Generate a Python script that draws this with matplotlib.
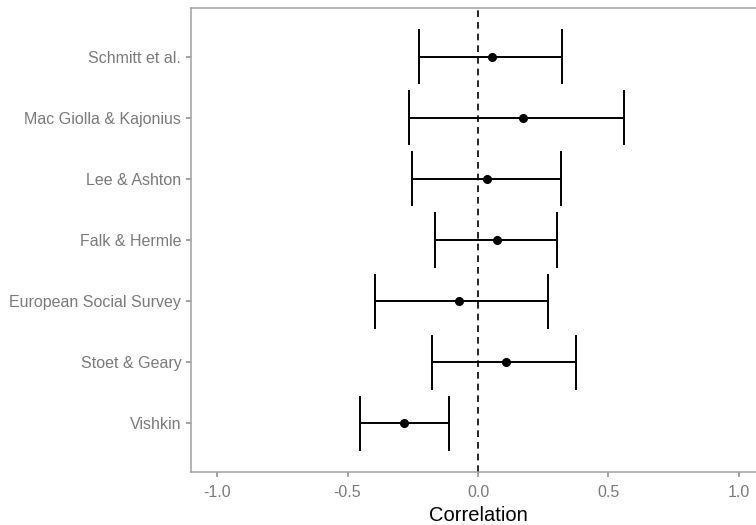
import matplotlib.pyplot as plt

studies = ["Vishkin", "Stoet & Geary", "European Social Survey", "Falk & Hermle",
           "Lee & Ashton", "Mac Giolla & Kajonius", "Schmitt et al."]
estimate = [-0.284, 0.107, -0.073, 0.073, 0.034, 0.172, 0.054]
lower = [-0.452, -0.176, -0.395, -0.165, -0.253, -0.264, -0.226]
upper = [-0.111, 0.375, 0.268, 0.303, 0.318, 0.559, 0.322]

plt.rcParams["font.family"] = ["Liberation Sans", "DejaVu Sans"]

fig = plt.figure(figsize=(7.56, 5.25), dpi=100)
ax = fig.add_axes([191 / 756, 53 / 525, 574 / 756, 464 / 525])

pos = list(range(1, len(studies) + 1))
xerr = [[e - l for e, l in zip(estimate, lower)], [u - e for u, e in zip(upper, estimate)]]

ax.axvline(0, color="black", linestyle=(0, (4, 3)), linewidth=1.2, zorder=1)
ax.errorbar(estimate, pos, xerr=xerr, fmt="o", color="black", ecolor="black",
            elinewidth=1.4, capsize=0, markersize=5.5, zorder=3)
# caps spanning 0.9 of the category width
for l, u, p in zip(lower, upper, pos):
    ax.vlines([l, u], p - 0.45, p + 0.45, color="black", linewidth=1.4, zorder=2)

ax.set_xlim(-1.1, 1.1)
ax.set_ylim(0.205, 7.795)
ax.set_xticks([-1.0, -0.5, 0.0, 0.5, 1.0])
ax.set_xticklabels(["-1.0", "-0.5", "0.0", "0.5", "1.0"])
ax.set_yticks(pos)
ax.set_yticklabels(studies)
ax.set_xlabel("Correlation", fontsize=14.5, labelpad=4)

for s in ax.spines.values():
    s.set_color("#a0a0a0")
    s.set_linewidth(1.1)
ax.tick_params(colors="#8a8a8a", labelcolor="#7a7a7a", labelsize=11.5, length=3.5, width=1.1)
ax.tick_params(axis="x", pad=6)

fig.savefig("out.png", dpi=100)
